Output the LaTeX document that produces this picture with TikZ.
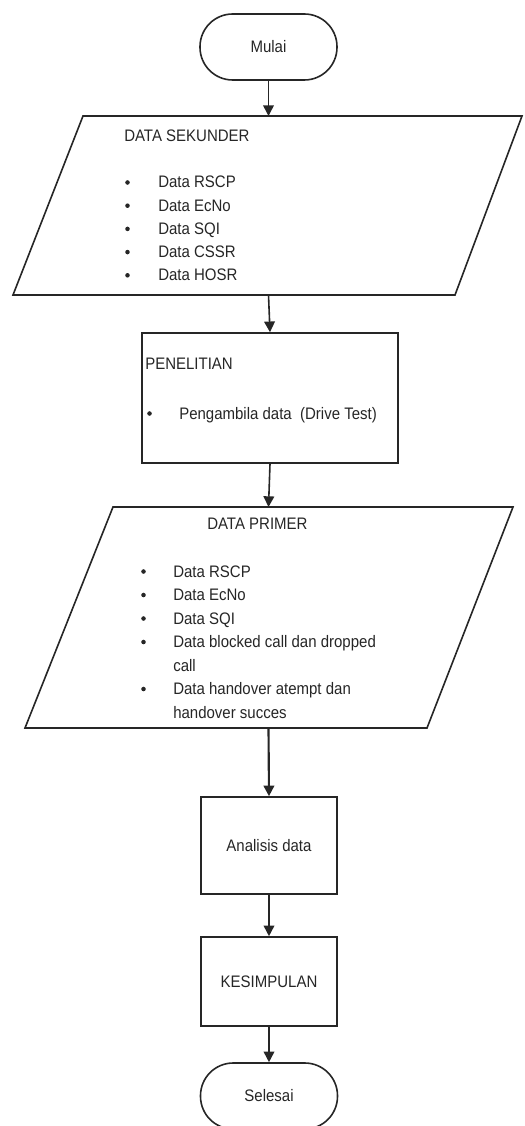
\documentclass[tikz,border=0pt]{standalone}
\usepackage{fontspec}
\setmainfont[FakeStretch=0.9]{Liberation Sans}
\usetikzlibrary{arrows.meta}

\begin{document}
\begin{tikzpicture}[x=0.75pt,y=-0.75pt,
  ink/.style={draw=black!85, line width=1.2pt},
  flow/.style={ink, -{Triangle[length=8pt,width=8pt]}},
  txt/.style={inner sep=0pt, font=\fontsize{12.5}{17.25}\selectfont, text=black!85},
  bullet/.style={circle, fill=black!85, inner sep=0pt, minimum size=3.4pt},
  terminal/.style={ink, txt, rectangle, rounded corners=24.5pt,
    minimum width=102.75pt, minimum height=49.5pt},
  process/.style={ink, txt, rectangle, minimum width=102pt},
]
\useasboundingbox (0,0) rectangle (524,1126);

% start
\node[terminal] (mulai) at (268.5,47) {Mulai};

% secondary data (input)
\draw[ink] (83,116) -- (522,116) -- (455,295) -- (13,295) -- cycle;
\coordinate (sek-top) at (268.5,116);
\coordinate (sek-bot) at (268.5,295);
\node[txt, anchor=base west] (sek-title) at (124,142) {DATA SEKUNDER};
\foreach \t [count=\i] in {Data RSCP, Data EcNo, Data SQI, Data CSSR, Data HOSR} {
  \node[txt, anchor=base west] (sek\i) at (158,{188+23.2*(\i-1)}) {\t};
  \node[bullet] (sek-b\i) at (127.5,{182.5+23.2*(\i-1)}) {};
}

% field research
\node[process, minimum width=192pt, minimum height=97.5pt] (pen) at (270,398) {};
\node[txt, anchor=base west] (pen-title) at (145,369) {PENELITIAN};
\node[bullet] (pen-b1) at (149.5,413.5) {};
\node[txt, anchor=base west] (pen1) at (179,419) {Pengambila data\ \ (Drive Test)};

% primary data (input)
\draw[ink] (113,507) -- (513,507) -- (427,728) -- (25,728) -- cycle;
\coordinate (pri-top) at (268.5,507);
\coordinate (pri-bot) at (268.5,728);
\node[txt, anchor=base west] (pri-title) at (207,529) {DATA PRIMER};
\foreach \t [count=\i] in {Data RSCP, Data EcNo, Data SQI, Data blocked call dan dropped,
  call, Data handover atempt dan, handover succes} {
  \node[txt, anchor=base west] (pri\i) at (173,{577+23.5*(\i-1)}) {\t};
}
\foreach \i in {1,2,3,4,6} {
  \node[bullet] (pri-b\i) at (143.5,{571.5+23.5*(\i-1)}) {};
}

% analysis and conclusion
\node[process, minimum height=72.75pt] (ana) at (269,845.5) {Analisis data};
\node[process, minimum height=66.75pt] (kes) at (269,981.5) {KESIMPULAN};

% end
\node[terminal] (selesai) at (269,1096) {Selesai};

% connectors
\draw[flow] (mulai.south) -- (sek-top);
\draw[flow] (sek-bot) -- (pen.north);
\draw[flow] (pen.south) -- (pri-top);
\draw[flow, line width=1.6pt] (pri-bot) -- (ana.north);
\draw[flow] (ana.south) -- (kes.north);
\draw[flow] (kes.south) -- (selesai.north);
\end{tikzpicture}
\end{document}
